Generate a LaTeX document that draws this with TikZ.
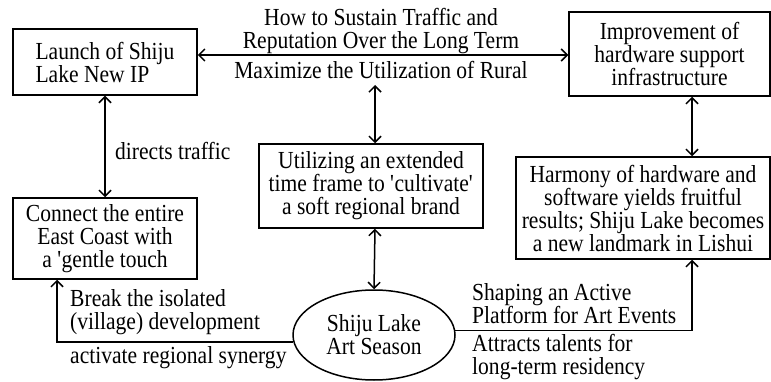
\documentclass[tikz,border=0pt]{standalone}
\usepackage{fontspec}
\setmainfont{Liberation Serif}[FakeStretch=0.88]
\usetikzlibrary{arrows.meta,positioning,shapes}

\begin{document}
\begin{tikzpicture}[x=1pt,y=-1pt]
    % \draw[help lines] (0,0) grid[step=50] (771,382);
    \useasboundingbox (0,0) rectangle (771,382);
    \tikzset{TextStyle/.style = {font=\fontsize{24.5}{23}\selectfont, inner sep=0pt}}
    \tikzset{BoxStyle/.style = {TextStyle, draw, line width=1.5pt, align=center}}
    \tikzset{EdgeStyle/.style = {line width=1.5pt, {Straight Barb[length=6pt,width=12pt]}-{Straight Barb[length=6pt,width=12pt]}}}
    \tikzset{OneWay/.style = {line width=1.5pt, -{Straight Barb[length=6pt,width=12pt]}}}

    \node[BoxStyle, align=left, minimum width=184, minimum height=66] (ip) at (105,62) {Launch of Shiju\\Lake New IP};
    \node[BoxStyle, minimum width=201, minimum height=84] (infra) at (669.5,54) {Improvement of\\hardware support\\infrastructure};
    \node[BoxStyle, minimum width=224, minimum height=84] (brand) at (371,186) {Utilizing an extended\\time frame to \textquotesingle cultivate\textquotesingle\\a soft regional brand};
    \node[BoxStyle, minimum width=184, minimum height=81] (coast) at (105,238.5) {Connect the entire\\East Coast with\\a \textquotesingle gentle touch};
    \node[BoxStyle, minimum width=254, minimum height=102] (harmony) at (643,208) {Harmony of hardware and\\software yields fruitful\\results; Shiju Lake becomes\\a new landmark in Lishui};
    \node[BoxStyle, ellipse, minimum width=162, minimum height=90] (season) at (374,335) {Shiju Lake\\Art Season};

    \node[TextStyle, align=center] (sustain) at (381,31) {How to Sustain Traffic and\\Reputation Over the Long Term};
    \node[TextStyle] (rural) at (381,70) {Maximize the Utilization of Rural};
    \node[TextStyle, anchor=west] (traffic) at (115,151) {directs traffic};
    \node[TextStyle, align=left, anchor=west] (isolated) at (70,312) {Break the isolated\\(village) development};
    \node[TextStyle, anchor=west] (synergy) at (70,358) {activate regional synergy};
    \node[TextStyle, align=left, anchor=west] (platform) at (472,304) {Shaping an Active\\Platform for Art Events};
    \node[TextStyle, align=left, anchor=west] (talents) at (472,357) {Attracts talents for\\long-term residency};

    \coordinate (top) at (381,55);
    \coordinate (mid) at (375,85);
    \coordinate (hw) at (692,0);
    \coordinate (lw) at (57,0);

    \draw[EdgeStyle] (top -| ip.east) -- (top -| infra.west);
    \draw[EdgeStyle] (mid) -- (mid |- brand.north);
    \draw[EdgeStyle] (mid |- brand.south) -- (season.north);
    \draw[EdgeStyle] (ip.south) -- (coast.north);
    \draw[EdgeStyle] (hw |- infra.south) -- (hw |- harmony.north);
    \draw[OneWay] (season.185) -| (lw |- coast.south);
    \draw[OneWay] (season.3) -| (hw |- harmony.south);
\end{tikzpicture}
\end{document}
